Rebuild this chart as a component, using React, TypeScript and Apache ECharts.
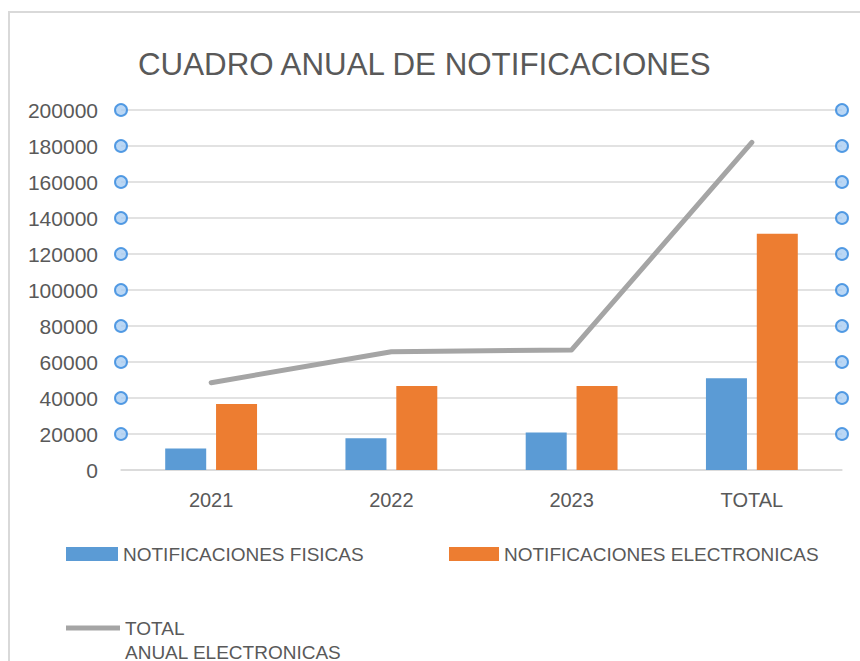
import React, { useEffect, useRef } from "react";
import * as echarts from "echarts";

const categories = ["2021", "2022", "2023", "TOTAL"];
const fisicas = [12000, 17600, 20900, 51000];
const electronicas = [36700, 46700, 46700, 131300];
const totalAnual = [48500, 65700, 66700, 182000];
const yTicks = [0, 20000, 40000, 60000, 80000, 100000, 120000, 140000, 160000, 180000, 200000];

const FONT = "'Liberation Sans', Arial, sans-serif";
const TEXT = "#595959";
const GRID = "#d9d9d9";

export default function App() {
  const ref = useRef<HTMLDivElement>(null);
  useEffect(() => {
    if (!ref.current) return;
    const chart = echarts.init(ref.current, undefined, { renderer: "svg" });
    const handles: number[][] = [];
    yTicks.filter((v) => v > 0).forEach((v) => {
      handles.push([0, v]);
      handles.push([1, v]);
    });
    chart.setOption({
      animation: false,
      backgroundColor: "#ffffff",
      title: {
        text: "CUADRO ANUAL DE NOTIFICACIONES",
        left: 138,
        top: 49,
        padding: 0,
        textStyle: { fontFamily: FONT, fontSize: 31.3, fontWeight: "normal", color: TEXT, lineHeight: 31 },
      },
      graphic: [
        {
          type: "rect",
          shape: { x: 9, y: 12, width: 900, height: 700 },
          style: { fill: "none", stroke: GRID, lineWidth: 2 },
          silent: true,
        },
      ],
      legend: [
        {
          data: [{ name: "NOTIFICACIONES FISICAS", icon: "rect" }],
          left: 66,
          top: 544,
          padding: 0,
          itemWidth: 52,
          itemHeight: 14,
          textStyle: { fontFamily: FONT, fontSize: 19, color: TEXT, lineHeight: 20 },
        },
        {
          data: [{ name: "NOTIFICACIONES ELECTRONICAS", icon: "rect" }],
          left: 449,
          top: 544,
          padding: 0,
          itemWidth: 50,
          itemHeight: 14,
          textStyle: { fontFamily: FONT, fontSize: 19, color: TEXT, lineHeight: 20 },
        },
        {
          data: [{ name: "TOTAL ANUAL ELECTRONICAS", icon: "rect" }],
          left: 66,
          top: 592,
          padding: 0,
          itemWidth: 54,
          itemHeight: 5,
          formatter: () => " \nTOTAL\nANUAL ELECTRONICAS",
          textStyle: { fontFamily: FONT, fontSize: 19, color: TEXT, lineHeight: 24 },
        },
      ],
      grid: { left: 121, right: 18, top: 110, bottom: 191, containLabel: false },
      xAxis: [
        {
          type: "category",
          data: categories,
          axisLine: { show: true, lineStyle: { color: GRID, width: 1.5 } },
          axisTick: { show: false },
          axisLabel: { fontFamily: FONT, fontSize: 20, color: TEXT, margin: 20 },
        },
        { type: "value", min: 0, max: 1, show: false },
      ],
      yAxis: {
        type: "value",
        min: 0,
        max: 200000,
        interval: 20000,
        axisLine: { show: false },
        axisTick: { show: false },
        splitLine: { lineStyle: { color: GRID, width: 1.5 } },
        axisLabel: {
          fontFamily: FONT,
          fontSize: 21,
          color: TEXT,
          margin: 23,
          formatter: (v: number) => String(v),
        },
      },
      series: [
        {
          name: "NOTIFICACIONES FISICAS",
          type: "bar",
          data: fisicas,
          barWidth: 41,
          barGap: "24%",
          itemStyle: { color: "#5b9bd5" },
        },
        {
          name: "NOTIFICACIONES ELECTRONICAS",
          type: "bar",
          data: electronicas,
          barWidth: 41,
          barGap: "24%",
          itemStyle: { color: "#ed7d31" },
        },
        {
          name: "TOTAL ANUAL ELECTRONICAS",
          type: "line",
          data: totalAnual,
          symbol: "none",
          itemStyle: { color: "#a5a5a5" },
          lineStyle: { color: "#a5a5a5", width: 5, cap: "round", join: "round" },
          z: 3,
        },
        {
          type: "scatter",
          xAxisIndex: 1,
          data: handles,
          symbol: "circle",
          symbolSize: 12,
          clip: false,
          silent: true,
          itemStyle: { color: "#a9cdf2", borderColor: "#2f86dd", borderWidth: 2 },
          z: 5,
        },
      ],
    });
    return () => chart.dispose();
  }, []);
  return (
    <div
      ref={ref}
      style={{ position: "fixed", left: 0, top: 0, width: 860, height: 661 }}
    />
  );
}
